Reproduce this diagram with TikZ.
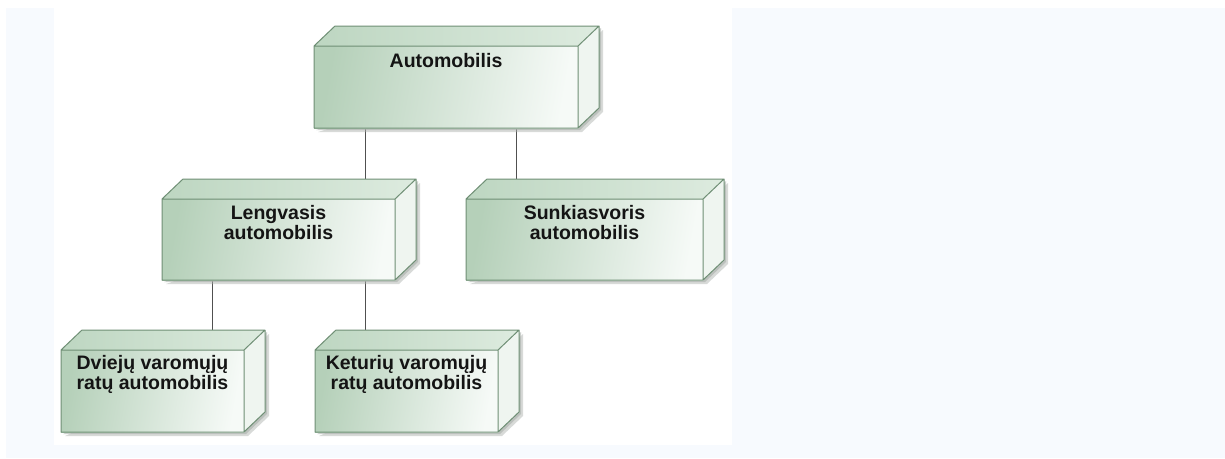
\documentclass[tikz,border=0pt]{standalone}
\usepackage{fontspec}
\setmainfont{Liberation Sans}
\definecolor{bgblue}{HTML}{F7FAFE}
\definecolor{edgec}{HTML}{6F8F75}
\definecolor{frontL}{HTML}{B5D0B9}
\definecolor{frontR}{HTML}{F6FAF7}
\definecolor{topL}{HTML}{BDD6C1}
\definecolor{topR}{HTML}{DDEBDF}
\definecolor{sidec}{HTML}{EFF5F0}
\definecolor{shadowc}{HTML}{A9AFAA}
\definecolor{linec}{HTML}{505050}
\definecolor{txtc}{HTML}{141414}
\tikzset{
  frontbox/.style={rectangle, inner sep=0pt, outer sep=0pt},
  lbl/.style={inner sep=0pt, anchor=north, align=center, text=txtc,
    font=\fontsize{19.5}{20.5}\selectfont\bfseries},
  conn/.style={draw=linec, line width=1pt},
  edgeline/.style={draw=edgec, line width=1pt, line join=round},
}
\newcommand{\cubedeco}[1]{%
  \fill[shadowc, opacity=0.45]
    ([shift={(4pt,-4pt)}]#1.south west) -- ([shift={(4pt,-4pt)}]#1.south east)
    -- ([shift={(25pt,16pt)}]#1.south east) -- ([shift={(25pt,16pt)}]#1.north east)
    -- ([shift={(4pt,-4pt)}]#1.north east) -- cycle;
  \fill[shadowc, opacity=0.6]
    ([shift={(2pt,-2pt)}]#1.south west) -- ([shift={(2pt,-2pt)}]#1.south east)
    -- ([shift={(23pt,18pt)}]#1.south east) -- ([shift={(23pt,18pt)}]#1.north east)
    -- ([shift={(2pt,-2pt)}]#1.north east) -- cycle;
  \shade[left color=topL, right color=topR]
    (#1.north west) -- (#1.north east) -- ([shift={(21pt,20pt)}]#1.north east)
    -- ([shift={(21pt,20pt)}]#1.north west) -- cycle;
  \fill[sidec]
    (#1.north east) -- (#1.south east) -- ([shift={(21pt,20pt)}]#1.south east)
    -- ([shift={(21pt,20pt)}]#1.north east) -- cycle;
  \shade[left color=frontL, right color=frontR, shading angle=80]
    (#1.south west) rectangle (#1.north east);
  \draw[edgeline]
    (#1.south west) rectangle (#1.north east)
    (#1.north west) -- ([shift={(21pt,20pt)}]#1.north west)
    -- ([shift={(21pt,20pt)}]#1.north east) -- ([shift={(21pt,20pt)}]#1.south east)
    -- (#1.south east)
    (#1.north east) -- ([shift={(21pt,20pt)}]#1.north east);
}
\begin{document}
\begin{tikzpicture}[x=1pt, y=-1pt]
\useasboundingbox (0,0) rectangle (1225,458);
% background
\fill[bgblue] (0,0) rectangle (1225,458);
\fill[white] (0,0) rectangle (1225,8);
\fill[white] (0,0) rectangle (6,458);
\fill[white] (54,0) rectangle (732,445);

% box positions (front faces)
\path node[frontbox, minimum width=264pt, minimum height=82pt] (auto) at (446,87) {};
\path node[frontbox, minimum width=233pt, minimum height=81pt] (leng) at (278.5,239.5) {};
\path node[frontbox, minimum width=237pt, minimum height=81pt] (sunk) at (584.5,239.5) {};
\path node[frontbox, minimum width=183pt, minimum height=82pt] (dvi) at (152.5,391) {};
\path node[frontbox, minimum width=183pt, minimum height=82pt] (ket) at (406.5,391) {};

% connector x positions
\coordinate (cx1) at (365,0);
\coordinate (cx2) at (516,0);
\coordinate (cx3) at (212,0);
\coordinate (cx4) at (365,0);
\coordinate (lengtop) at ([yshift=20pt]leng.north);
\coordinate (sunktop) at ([yshift=20pt]sunk.north);
\coordinate (dvitop) at ([yshift=20pt]dvi.north);
\coordinate (kettop) at ([yshift=20pt]ket.north);

% connectors
\draw[conn] (auto.south -| cx1) -- (lengtop -| cx1);
\draw[conn] (auto.south -| cx2) -- (sunktop -| cx2);
\draw[conn] (leng.south -| cx3) -- (dvitop -| cx3);
\draw[conn] (leng.south -| cx4) -- (kettop -| cx4);

% boxes
\cubedeco{auto}
\cubedeco{leng}
\cubedeco{sunk}
\cubedeco{dvi}
\cubedeco{ket}

% labels
\node[lbl] (autot) at ([yshift=-7pt]auto.north) {Automobilis};
\node[lbl] (lengt) at ([yshift=-6pt]leng.north) {Lengvasis\\automobilis};
\node[lbl] (sunkt) at ([yshift=-6pt]sunk.north) {Sunkiasvoris\\automobilis};
\node[lbl] (dvit) at ([yshift=-5pt]dvi.north) {Dviejų varomųjų\\ratų automobilis};
\node[lbl] (kett) at ([yshift=-5pt]ket.north) {Keturių varomųjų\\ratų automobilis};
\end{tikzpicture}
\end{document}
